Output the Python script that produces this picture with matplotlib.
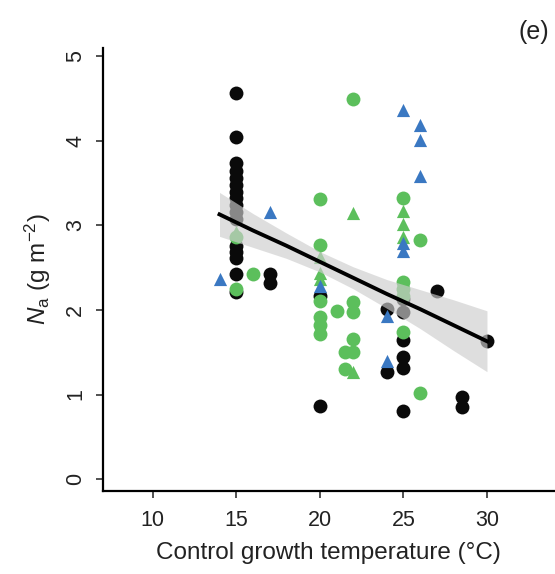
import matplotlib
matplotlib.use('Agg')
import matplotlib.pyplot as plt
import numpy as np

plt.rcParams['font.family'] = ['Liberation Sans', 'DejaVu Sans']
plt.rcParams['mathtext.fontset'] = 'custom'
plt.rcParams['mathtext.rm'] = 'Liberation Sans'
plt.rcParams['mathtext.it'] = 'Liberation Sans:italic'

# black circles
black_x = [15, 15, 15, 15, 15, 15, 15, 15, 15, 15, 15, 15, 15, 15, 15, 15,
           17, 17, 20, 20, 24, 24, 25, 25, 25, 25, 25, 25, 27, 28.5, 28.5, 30]
black_y = [4.57, 4.04, 3.74, 3.64, 3.56, 3.48, 3.40, 3.32, 3.24, 3.16, 3.08, 2.76, 2.68, 2.62, 2.43, 2.21,
           2.42, 2.32, 2.17, 0.86, 2.01, 1.27, 2.13, 1.97, 1.65, 1.44, 1.31, 0.80, 2.23, 0.97, 0.85, 1.63]

# green circles
green_x = [15, 15, 16, 20, 20, 20, 20, 20, 20, 21, 21.5, 21.5, 22, 22, 22, 22, 22,
           25, 25, 25, 25, 25, 26, 26]
green_y = [2.86, 2.25, 2.42, 3.31, 2.77, 2.11, 1.92, 1.82, 1.72, 1.99, 1.50, 1.30, 4.49, 2.10, 1.98, 1.66, 1.50,
           3.32, 2.33, 2.25, 2.17, 1.74, 2.83, 1.02]

# green triangles
green_tri_x = [15, 20, 20, 20, 22, 22, 25, 25, 25]
green_tri_y = [2.92, 2.63, 2.44, 2.37, 3.15, 1.27, 3.17, 3.02, 2.86]

# blue triangles
blue_x = [14, 17, 20, 24, 24, 25, 25, 25, 26, 26, 26]
blue_y = [2.37, 3.16, 2.28, 1.93, 1.40, 4.36, 2.79, 2.70, 4.19, 4.01, 3.58]

# regression line and confidence band
fit_x = [14, 16, 18, 20, 22, 24, 26, 28, 30]
fit_y = [3.13, 2.94, 2.76, 2.57, 2.38, 2.19, 2.01, 1.82, 1.63]
ci_upper = [3.39, 3.14, 2.91, 2.69, 2.51, 2.36, 2.24, 2.12, 1.99]
ci_lower = [2.87, 2.74, 2.61, 2.45, 2.25, 2.02, 1.78, 1.52, 1.27]

black = '#0a0a0a'
green = '#5cbf5c'
blue = '#3a78c2'
txt = '#222222'

fig = plt.figure(figsize=(5.55, 5.74), dpi=100)
ax = fig.add_axes([0.185, 0.145, 0.815, 0.771])

ax.scatter(black_x, black_y, s=100, color=black, marker='o', linewidths=0, zorder=2)
ax.scatter(green_x, green_y, s=100, color=green, marker='o', linewidths=0, zorder=3)
ax.scatter(green_tri_x, green_tri_y, s=90, color=green, marker='^', linewidths=0, zorder=3)
ax.scatter(blue_x, blue_y, s=90, color=blue, marker='^', linewidths=0, zorder=4)

ax.fill_between(fit_x, ci_lower, ci_upper, color='#cdcdcd', alpha=0.65, linewidth=0, zorder=5)
ax.plot(fit_x, fit_y, color='black', lw=2.8, zorder=6)

ax.set_xlim(7.01, 34.07)
ax.set_ylim(-0.138, 5.095)
ax.set_xticks([10, 15, 20, 25, 30])
ax.set_yticks([0, 1, 2, 3, 4, 5])

for s in ['top', 'right']:
    ax.spines[s].set_visible(False)
for s in ['left', 'bottom']:
    ax.spines[s].set_linewidth(1.6)

ax.tick_params(direction='out', length=5, width=1.1, labelsize=15.5, colors=txt)
ax.tick_params(axis='y', labelrotation=90, pad=7)
ax.tick_params(axis='x', pad=9)
for lab in ax.get_yticklabels():
    lab.set_va('center')

ax.set_xlabel('Control growth temperature (°C)', fontsize=17.5, labelpad=8, color=txt)
ax.set_ylabel(r'$N_\mathrm{a}$ (g m$^{-2}$)', fontsize=17.5, labelpad=9, color=txt)

fig.text(0.962, 0.944, '(e)', fontsize=18, ha='center', va='center', color=txt)

fig.savefig('out.png', dpi=100)
